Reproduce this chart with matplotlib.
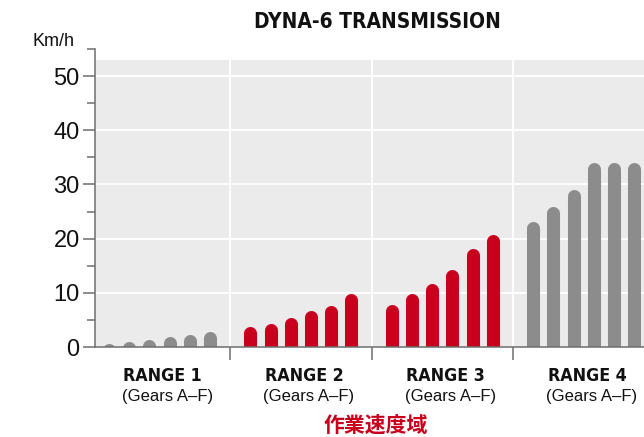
import matplotlib
matplotlib.use("Agg")
import matplotlib.pyplot as plt
from matplotlib.transforms import blended_transform_factory

# data (km/h, gears A-F per range)
ranges = ["RANGE 1", "RANGE 2", "RANGE 3", "RANGE 4"]
range1 = [0.6, 1.0, 1.3, 2.0, 2.4, 2.8]
range2 = [3.7, 4.4, 5.4, 6.8, 7.6, 9.8]
range3 = [7.9, 9.8, 11.8, 14.4, 18.1, 20.8]
range4 = [23.1, 26.0, 29.0, 34.0, 34.0, 34.0]
speeds = [range1, range2, range3, range4]
working = [False, True, True, False]  # 作業速度域 = red

RED = "#c8001e"
GRAY = "#8c8c8c"
BG = "#ebebeb"
AXIS = "#6e6e6e"
NARROW = ["DejaVu Sans"]  # used with fontstretch="condensed"
SANS = ["Liberation Sans", "DejaVu Sans"]

fig = plt.figure(figsize=(6.44, 4.37), dpi=100)
ax = fig.add_axes([95 / 644, 90 / 437, 549 / 644, 298 / 437])

ymax = 55
ax.set_ylim(0, ymax)
ax.set_xlim(-0.69, 26.49)

# grey panel + white grid
ax.axhspan(0, 53, color=BG, zorder=0, lw=0)
for v in [10, 20, 30, 40, 50]:
    ax.axhline(v, color="white", lw=1.3, zorder=1)
seps = [7 * k + 6 for k in range(len(ranges) - 1)]
ax.vlines(seps, 0, 53, color="white", lw=1.3, zorder=1)

# rounded-top bars drawn as thick lines with round caps
bar_pt = 9.4
ax_h_px = 298
r_data = (bar_pt / 2) * 100 / 72 * ymax / ax_h_px
for k, vals in enumerate(speeds):
    col = RED if working[k] else GRAY
    for i, v in enumerate(vals):
        x = 7 * k + i
        ax.plot([x, x], [-5, v - r_data], color=col, lw=bar_pt,
                solid_capstyle="round", zorder=2)

# axes styling
for s in ["top", "right"]:
    ax.spines[s].set_visible(False)
for s in ["left", "bottom"]:
    ax.spines[s].set_color(AXIS)
    ax.spines[s].set_linewidth(1.1)
ax.spines["bottom"].set_zorder(3)

ax.set_yticks([0, 10, 20, 30, 40, 50])
ax.set_yticks([5, 15, 25, 35, 45, 55], minor=True)
ax.tick_params(axis="y", which="major", length=8.5, width=1.1, color=AXIS,
               pad=2.5, labelsize=17)
ax.tick_params(axis="y", which="minor", length=5.8, width=1.1, color=AXIS)
for lab in ax.get_yticklabels():
    lab.set_family(SANS)
    lab.set_color("#111111")

ax.set_xticks(seps)
ax.set_xticklabels([])
ax.tick_params(axis="x", length=9.5, width=1.1, color=AXIS)

# labels under each range
tr = blended_transform_factory(ax.transData, fig.transFigure)
for k, name in enumerate(ranges):
    cx = 7 * k + 2.5
    ax.text(cx + 0.17, 1 - 376 / 437, name, transform=tr, ha="center",
            va="center", fontsize=12.8, fontweight="bold", family=NARROW,
            fontstretch="condensed", color="#111111")
    ax.text(cx + 0.4, 1 - 397 / 437, "(Gears A\u2013F)", transform=tr,
            ha="center", va="center", fontsize=12, family=SANS,
            color="#111111")

fig.text(376 / 644, 1 - 425 / 437, "作業速度域", ha="center", va="center",
         fontsize=15, fontweight="bold", color=RED,
         family=["Noto Sans CJK JP", "DejaVu Sans"])

fig.text(377 / 644, 1 - 22 / 437, "DYNA-6 TRANSMISSION", ha="center",
         va="center", fontsize=15, fontweight="bold", family=NARROW,
         fontstretch="condensed", color="#111111")
fig.text(53 / 644, 1 - 41 / 437, "Km/h", ha="center", va="center",
         fontsize=13, family=SANS, color="#111111")

fig.savefig("out.png", dpi=100)
